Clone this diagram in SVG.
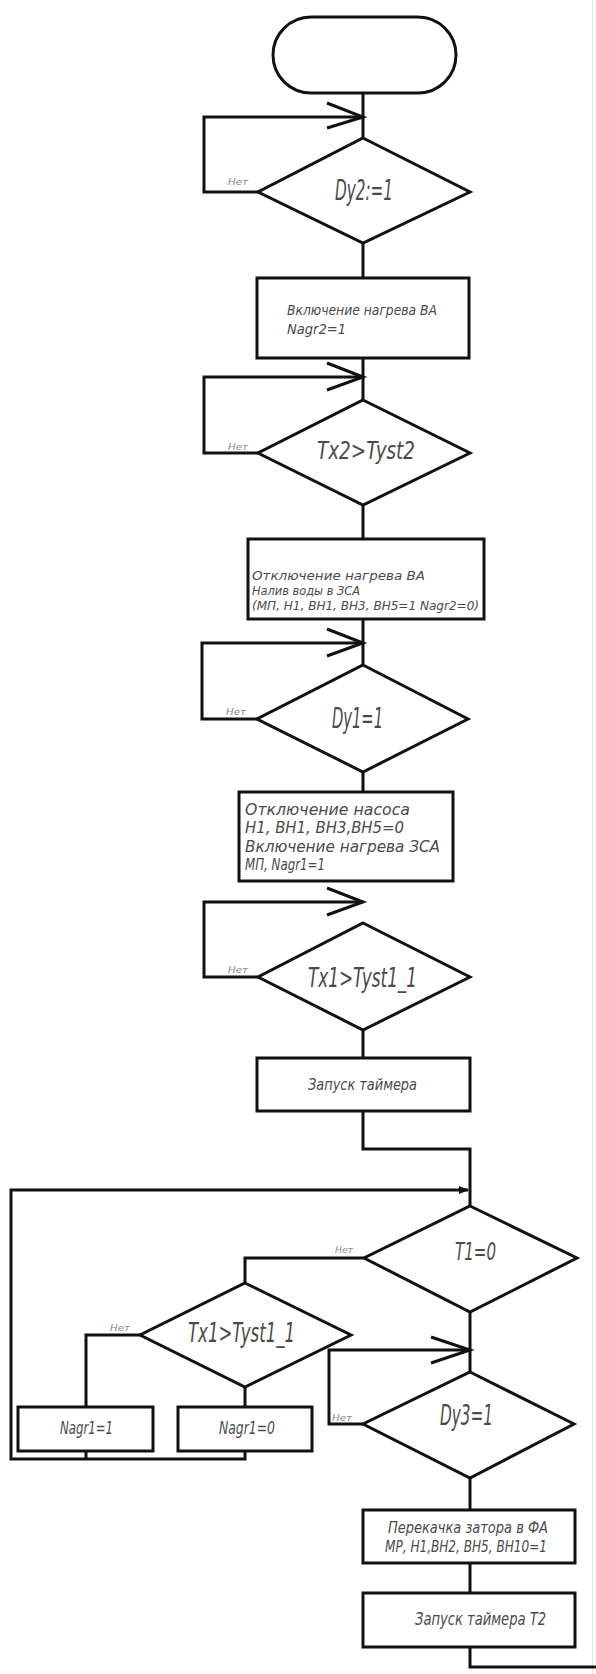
<svg xmlns="http://www.w3.org/2000/svg" width="596" height="1674" viewBox="0 0 596 1674">
<style>
.s{fill:#fff;stroke:#111;stroke-width:3}
.c{fill:none;stroke:#111;stroke-width:3;stroke-linejoin:miter}
.t{font-family:"Liberation Sans Narrow","DejaVu Sans Condensed","Liberation Sans",sans-serif;font-style:italic;fill:#4a4a4a}
.big{font-size:28px}
.mid{font-size:16px}
.sm{font-size:13px}
.no{font-size:9px;fill:#8a8a8a}
</style>
<defs>
<marker id="fa" markerWidth="10" markerHeight="8" refX="9" refY="4" orient="auto" markerUnits="userSpaceOnUse">
<path d="M0,0 L10,4 L0,8 Z" fill="#111"/>
</marker>
</defs>
<rect width="596" height="1674" fill="#fff"/>
<line x1="592.5" y1="0" x2="592.5" y2="1674" stroke="#e2e2e2" stroke-width="1"/>

<g id="connectors">
<path class="c" d="M363,93 V138"/>
<path class="c" d="M258,192 H204 V117 H363"/>
<path class="c" d="M327,103 L363,117 L327,128"/>
<path class="c" d="M363,243 V278"/>
<path class="c" d="M363,358 V400"/>
<path class="c" d="M258,453 H204 V377 H363"/>
<path class="c" d="M327,363 L363,377 L327,390"/>
<path class="c" d="M363,505 V539"/>
<path class="c" d="M363,619 V665"/>
<path class="c" d="M257,719 H202 V643 H363"/>
<path class="c" d="M327,629 L363,643 L327,656"/>
<path class="c" d="M363,772 V792"/>
<path class="c" d="M258,977 H204 V902 H363"/>
<path class="c" d="M327,888 L363,902 L327,915"/>
<path class="c" d="M363,1030 V1058"/>
<path class="c" d="M363,1111 V1149 H470 V1206"/>
<path class="c" d="M245,1407 V1459 H11 V1190 H468" marker-end="url(#fa)"/>
<path class="c" d="M86,1451 V1459"/>
<path class="c" d="M364,1258 H245 V1283"/>
<path class="c" d="M140,1335 H86 V1407"/>
<path class="c" d="M245,1387 V1407"/>
<path class="c" d="M470,1312 V1372"/>
<path class="c" d="M363,1424 H329 V1350 H470"/>
<path class="c" d="M431,1337 L470,1350 L431,1363"/>
<path class="c" d="M470,1478 V1510"/>
<path class="c" d="M470,1563 V1593"/>
<path class="c" d="M470,1647 V1667 H596"/>
</g>

<g id="start">
<rect class="s" x="273" y="17" width="183" height="76" rx="38" ry="38"/>
</g>

<g id="d_dy2">
<polygon class="s" points="363,138 470,192 363,243 258,192"/>
<text class="t big" x="335" y="200" textLength="58" lengthAdjust="spacingAndGlyphs">Dy2:=1</text>
<text class="t no" x="228" y="185" textLength="20" lengthAdjust="spacingAndGlyphs">Нет</text>
</g>

<g id="p_heat_va">
<rect class="s" x="257" y="278" width="212" height="80"/>
<text class="t" x="287" y="315" textLength="150" lengthAdjust="spacingAndGlyphs" style="font-size:14px">Включение нагрева ВА</text>
<text class="t" x="287" y="334" textLength="59" lengthAdjust="spacingAndGlyphs" style="font-size:14px">Nagr2=1</text>
</g>

<g id="d_tx2">
<polygon class="s" points="363,400 470,453 363,505 258,453"/>
<text class="t big" x="317" y="459" textLength="98" lengthAdjust="spacingAndGlyphs" style="font-size:25px">Tx2&gt;Tyst2</text>
<text class="t no" x="228" y="450" textLength="20" lengthAdjust="spacingAndGlyphs">Нет</text>
</g>

<g id="p_fill">
<rect class="s" x="248" y="539" width="236" height="80"/>
<text class="t sm" x="252" y="580" textLength="173" lengthAdjust="spacingAndGlyphs">Отключение нагрева ВА</text>
<text class="t sm" x="252" y="595" textLength="108" lengthAdjust="spacingAndGlyphs">Налив воды в ЗСА</text>
<text class="t sm" x="252" y="610" textLength="227" lengthAdjust="spacingAndGlyphs">(МП, Н1, ВН1, ВН3, ВН5=1 Nagr2=0)</text>
</g>

<g id="d_dy1">
<polygon class="s" points="363,665 468,719 363,772 257,719"/>
<text class="t big" x="332" y="728" textLength="51" lengthAdjust="spacingAndGlyphs">Dy1=1</text>
<text class="t no" x="226" y="715" textLength="20" lengthAdjust="spacingAndGlyphs">Нет</text>
</g>

<g id="p_pump_off">
<rect class="s" x="239" y="792" width="214" height="89"/>
<text class="t" x="245" y="815" textLength="165" lengthAdjust="spacingAndGlyphs" style="font-size:15px">Отключение насоса</text>
<text class="t" x="245" y="833" textLength="159" lengthAdjust="spacingAndGlyphs" style="font-size:15px">Н1, ВН1, ВН3,ВН5=0</text>
<text class="t" x="245" y="852" textLength="195" lengthAdjust="spacingAndGlyphs" style="font-size:15px">Включение нагрева ЗСА</text>
<text class="t" x="245" y="870" textLength="80" lengthAdjust="spacingAndGlyphs" style="font-size:15px">МП, Nagr1=1</text>
</g>

<g id="d_tx1a">
<polygon class="s" points="363,923 470,977 363,1030 258,977"/>
<text class="t big" x="308" y="987" textLength="109" lengthAdjust="spacingAndGlyphs" style="font-size:27px">Tx1&gt;Tyst1_1</text>
<text class="t no" x="228" y="973" textLength="20" lengthAdjust="spacingAndGlyphs">Нет</text>
</g>

<g id="p_timer">
<rect class="s" x="257" y="1058" width="213" height="53"/>
<text class="t mid" x="308" y="1090" textLength="109" lengthAdjust="spacingAndGlyphs">Запуск таймера</text>
</g>

<g id="d_t1">
<polygon class="s" points="470,1206 577,1258 470,1312 364,1258"/>
<text class="t big" x="455" y="1260" textLength="41" lengthAdjust="spacingAndGlyphs" style="font-size:25px">T1=0</text>
<text class="t no" x="335" y="1253" textLength="18" lengthAdjust="spacingAndGlyphs">Нет</text>
</g>

<g id="d_tx1b">
<polygon class="s" points="245,1283 351,1335 245,1387 140,1335"/>
<text class="t big" x="188" y="1342" textLength="107" lengthAdjust="spacingAndGlyphs" style="font-size:27px">Tx1&gt;Tyst1_1</text>
<text class="t no" x="110" y="1331" textLength="20" lengthAdjust="spacingAndGlyphs">Нет</text>
</g>

<g id="p_nagr1_1">
<rect class="s" x="18" y="1407" width="135" height="44"/>
<text class="t" x="60" y="1434" textLength="53" lengthAdjust="spacingAndGlyphs" style="font-size:18px">Nagr1=1</text>
</g>

<g id="p_nagr1_0">
<rect class="s" x="178" y="1407" width="134" height="44"/>
<text class="t" x="219" y="1434" textLength="56" lengthAdjust="spacingAndGlyphs" style="font-size:18px">Nagr1=0</text>
</g>

<g id="d_dy3">
<polygon class="s" points="470,1372 574,1424 470,1478 363,1424"/>
<text class="t big" x="440" y="1425" textLength="53" lengthAdjust="spacingAndGlyphs">Dy3=1</text>
<text class="t no" x="332" y="1421" textLength="20" lengthAdjust="spacingAndGlyphs">Нет</text>
</g>

<g id="p_transfer">
<rect class="s" x="363" y="1510" width="212" height="53"/>
<text class="t" x="388" y="1533" textLength="160" lengthAdjust="spacingAndGlyphs" style="font-size:16px">Перекачка затора в ФА</text>
<text class="t" x="385" y="1552" textLength="162" lengthAdjust="spacingAndGlyphs" style="font-size:16px">МР, Н1,ВН2, ВН5, ВН10=1</text>
</g>

<g id="p_timer2">
<rect class="s" x="363" y="1593" width="212" height="54"/>
<text class="t" x="415" y="1625" textLength="131" lengthAdjust="spacingAndGlyphs" style="font-size:17px">Запуск таймера Т2</text>
</g>
</svg>
